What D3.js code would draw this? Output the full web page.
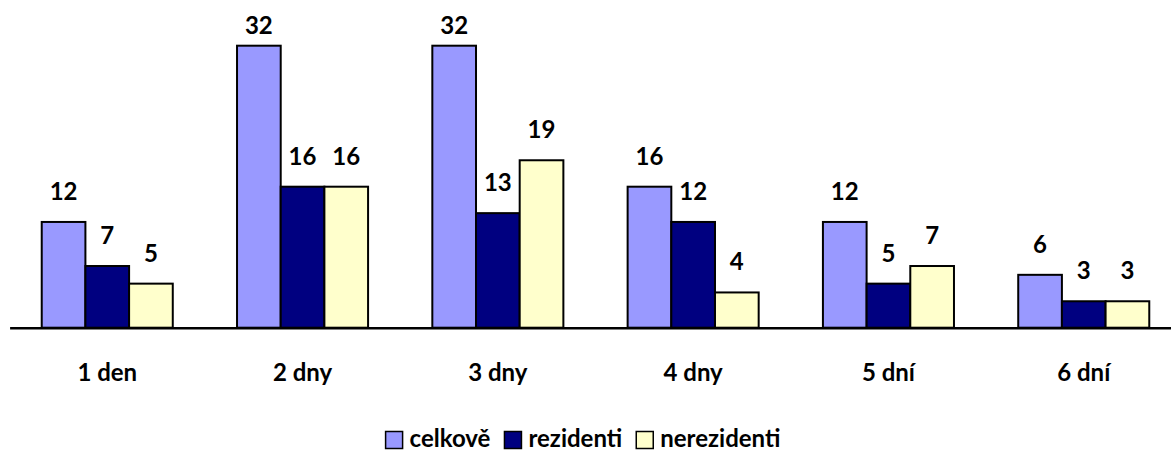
<!DOCTYPE html>
<html>
<head>
<meta charset="utf-8">
<script src="https://cdn.jsdelivr.net/npm/d3@7"></script>
<style>
  html, body { margin: 0; padding: 0; background: #fff; }
  svg { display: block; }
  text { font-family: Lato, "Open Sans", sans-serif; font-weight: bold; fill: #000; }
</style>
</head>
<body>
<svg id="chart" width="1171" height="452"></svg>
<script>
const categories = ["1 den", "2 dny", "3 dny", "4 dny", "5 dní", "6 dní"];
const seriesNames = ["celkově", "rezidenti", "nerezidenti"];
const celkove = [12, 32, 32, 16, 12, 6];
const rezidenti = [7, 16, 13, 12, 5, 3];
const nerezidenti = [5, 16, 19, 4, 7, 3];
const seriesColors = ["#9999FF", "#000080", "#FFFFCC"];

const seriesValues = [celkove, rezidenti, nerezidenti];
const data = categories.map((c, i) => ({
  cat: c,
  vals: seriesNames.map((s, j) => ({ series: s, value: seriesValues[j][i], color: seriesColors[j] }))
}));

const svg = d3.select("#chart");
const baseline = 327.7;
const topY = 45.7;

const x0 = d3.scaleBand().domain(categories).range([9.6, 1181.4])
  .paddingInner(0.329).paddingOuter(0.1645);
const x1 = d3.scaleBand().domain(seriesNames).range([0, x0.bandwidth()]);
const y = d3.scaleLinear().domain([0, 32]).range([baseline, topY]);

const groups = svg.append("g").selectAll("g").data(data).join("g")
  .attr("transform", d => `translate(${x0(d.cat)},0)`);

groups.selectAll("rect").data(d => d.vals).join("rect")
  .attr("x", d => x1(d.series))
  .attr("y", d => y(d.value))
  .attr("width", x1.bandwidth())
  .attr("height", d => baseline - y(d.value))
  .attr("fill", d => d.color)
  .attr("stroke", "#000")
  .attr("stroke-width", 2);

groups.selectAll("text.val").data(d => d.vals).join("text")
  .attr("class", "val")
  .attr("x", d => x1(d.series) + x1.bandwidth() / 2)
  .attr("y", d => Math.max(y(d.value) - 22, 33.5))
  .attr("text-anchor", "middle")
  .style("font-size", "24px")
  .text(d => d.value);

// axis
const axis = svg.append("g")
  .attr("transform", `translate(0,${baseline})`)
  .call(d3.axisBottom(x0).tickSize(0).tickSizeOuter(0));
axis.select(".domain").attr("stroke", "#000").attr("stroke-width", 2.5);
axis.selectAll("text")
  .attr("y", 53).attr("dy", 0)
  .style("font-size", "24px")
  .style("font-family", "Lato, 'Open Sans', sans-serif")
  .style("font-weight", "bold")
  .attr("fill", "#000");

// legend
const legend = svg.append("g");
const items = legend.selectAll("g").data(seriesNames).join("g");
items.append("rect")
  .attr("width", 17).attr("height", 17)
  .attr("y", 431.5)
  .attr("fill", (d, i) => seriesColors[i])
  .attr("stroke", "#000").attr("stroke-width", 1.5);
items.append("text")
  .attr("x", 24)
  .attr("y", 447)
  .style("font-size", "24px")
  .text(d => d);
let xPos = 0;
items.each(function(d, i) {
  const w = d3.select(this).select("text").node().getComputedTextLength();
  d3.select(this).attr("transform", `translate(${xPos},0)`);
  xPos += 24 + w + 14;
});
const totalW = xPos - 14;
legend.attr("transform", `translate(${583 - totalW / 2},0)`);
</script>
</body>
</html>
